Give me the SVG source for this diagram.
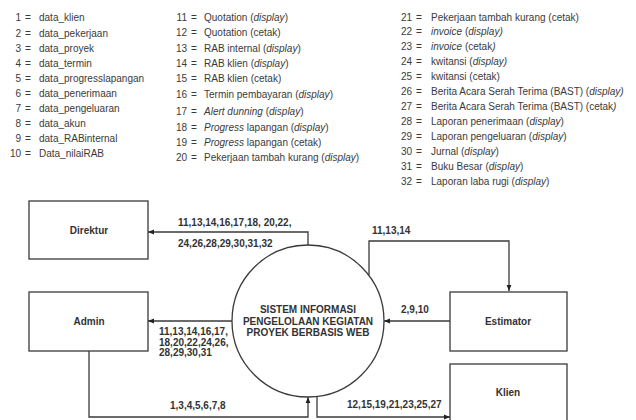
<svg xmlns="http://www.w3.org/2000/svg" width="636" height="420" viewBox="0 0 636 420">
<style>
.lg{font-family:"Liberation Sans",Arial,sans-serif;font-size:10px;fill:#3a3a3a}
.n{text-anchor:end}
.i{font-style:italic}
.box{fill:#fff;stroke:#3a3a3a;stroke-width:1.3}
.lbl{font-family:"Liberation Sans",Arial,sans-serif;font-size:10px;font-weight:bold;fill:#333}
.c{text-anchor:middle}
.ln{fill:none;stroke:#3a3a3a;stroke-width:1.3}
</style>
<defs>
<marker id="ah" viewBox="0 0 10 10" refX="10" refY="5" markerWidth="6" markerHeight="6" orient="auto" markerUnits="userSpaceOnUse">
<path d="M0,1 L10,5 L0,9 z" fill="#222"/>
</marker>
</defs>
<rect width="636" height="420" fill="#fff"/>
<g id="legend" class="lg">
<text x="21" y="20.5" class="n">1</text><text x="25" y="20.5">=</text><text x="39" y="20.5">data_klien</text>
<text x="21" y="36.5" class="n">2</text><text x="25" y="36.5">=</text><text x="39" y="36.5">data_pekerjaan</text>
<text x="21" y="51.5" class="n">3</text><text x="25" y="51.5">=</text><text x="39" y="51.5">data_proyek</text>
<text x="21" y="66.5" class="n">4</text><text x="25" y="66.5">=</text><text x="39" y="66.5">data_termin</text>
<text x="21" y="81.5" class="n">5</text><text x="25" y="81.5">=</text><text x="39" y="81.5">data_progresslapangan</text>
<text x="21" y="96.5" class="n">6</text><text x="25" y="96.5">=</text><text x="39" y="96.5">data_penerimaan</text>
<text x="21" y="111.5" class="n">7</text><text x="25" y="111.5">=</text><text x="39" y="111.5">data_pengeluaran</text>
<text x="21" y="126.5" class="n">8</text><text x="25" y="126.5">=</text><text x="39" y="126.5">data_akun</text>
<text x="21" y="141.5" class="n">9</text><text x="25" y="141.5">=</text><text x="39" y="141.5">data_RABinternal</text>
<text x="21" y="156.5" class="n">10</text><text x="25" y="156.5">=</text><text x="39" y="156.5">Data_nilaiRAB</text>

<text x="187" y="20.5" class="n">11</text><text x="191" y="20.5">=</text><text x="204" y="20.5">Quotation (<tspan class="i">display</tspan>)</text>
<text x="187" y="35.5" class="n">12</text><text x="191" y="35.5">=</text><text x="204" y="35.5">Quotation (cetak)</text>
<text x="187" y="51.5" class="n">13</text><text x="191" y="51.5">=</text><text x="204" y="51.5">RAB internal (<tspan class="i">display</tspan>)</text>
<text x="187" y="66.5" class="n">14</text><text x="191" y="66.5">=</text><text x="204" y="66.5">RAB klien (<tspan class="i">display</tspan>)</text>
<text x="187" y="81.5" class="n">15</text><text x="191" y="81.5">=</text><text x="204" y="81.5">RAB klien (cetak)</text>
<text x="187" y="97.5" class="n">16</text><text x="191" y="97.5">=</text><text x="204" y="97.5">Termin pembayaran (<tspan class="i">display</tspan>)</text>
<text x="187" y="114.5" class="n">17</text><text x="191" y="114.5">=</text><text x="204" y="114.5"><tspan class="i">Alert dunning</tspan>  (<tspan class="i">display</tspan>)</text>
<text x="187" y="130.5" class="n">18</text><text x="191" y="130.5">=</text><text x="204" y="130.5"><tspan class="i">Progress</tspan>  lapangan (<tspan class="i">display</tspan>)</text>
<text x="187" y="145.5" class="n">19</text><text x="191" y="145.5">=</text><text x="204" y="145.5"><tspan class="i">Progress</tspan>  lapangan (cetak)</text>
<text x="187" y="160.5" class="n">20</text><text x="191" y="160.5">=</text><text x="204" y="160.5">Pekerjaan tambah kurang (<tspan class="i">display</tspan>)</text>

<text x="412" y="20.5" class="n">21</text><text x="416" y="20.5">=</text><text x="431" y="20.5">Pekerjaan tambah kurang (cetak)</text>
<text x="412" y="34.5" class="n">22</text><text x="416" y="34.5">=</text><text x="431" y="34.5"><tspan class="i">invoice</tspan> (<tspan class="i">display)</tspan></text>
<text x="412" y="49.5" class="n">23</text><text x="416" y="49.5">=</text><text x="431" y="49.5"><tspan class="i">invoice</tspan> (cetak<tspan class="i">)</tspan></text>
<text x="412" y="64.5" class="n">24</text><text x="416" y="64.5">=</text><text x="431" y="64.5">kwitansi (<tspan class="i">display)</tspan></text>
<text x="412" y="79.5" class="n">25</text><text x="416" y="79.5">=</text><text x="431" y="79.5">kwitansi (cetak)</text>
<text x="412" y="94.5" class="n">26</text><text x="416" y="94.5">=</text><text x="431" y="94.5">Berita Acara Serah Terima (BAST) (<tspan class="i">display)</tspan></text>
<text x="412" y="109.5" class="n">27</text><text x="416" y="109.5">=</text><text x="431" y="109.5">Berita Acara Serah Terima (BAST) (cetak<tspan class="i">)</tspan></text>
<text x="412" y="124.5" class="n">28</text><text x="416" y="124.5">=</text><text x="431" y="124.5">Laporan penerimaan (<tspan class="i">display</tspan>)</text>
<text x="412" y="139.5" class="n">29</text><text x="416" y="139.5">=</text><text x="431" y="139.5">Laporan pengeluaran (<tspan class="i">display</tspan>)</text>
<text x="412" y="154.5" class="n">30</text><text x="416" y="154.5">=</text><text x="431" y="154.5">Jurnal (<tspan class="i">display</tspan>)</text>
<text x="412" y="169.5" class="n">31</text><text x="416" y="169.5">=</text><text x="431" y="169.5">Buku Besar (<tspan class="i">display</tspan>)</text>
<text x="412" y="184.5" class="n">32</text><text x="416" y="184.5">=</text><text x="431" y="184.5">Laporan laba rugi (<tspan class="i">display</tspan>)</text>
</g>

<g id="connectors">
<polyline class="ln" points="308,245 308,232 148,232" marker-end="url(#ah)"/>
<line class="ln" x1="232" y1="321" x2="148" y2="321" marker-end="url(#ah)"/>
<polyline class="ln" points="89,351 89,417 308,417 308,397" marker-end="url(#ah)"/>
<polyline class="ln" points="317,396.5 317,417 450,417" marker-end="url(#ah)"/>
<line class="ln" x1="450" y1="321" x2="384" y2="321" marker-end="url(#ah)"/>
<polyline class="ln" points="369,275 369,241 509,241 509,291" marker-end="url(#ah)"/>
<g class="lbl">
<text x="178" y="226">11,13,14,16,17,18, 20,22,</text>
<text x="178" y="247">24,26,28,29,30,31,32</text>
<text x="159" y="335">11,13,14,16,17,</text>
<text x="159" y="346">18,20,22,24,26,</text>
<text x="159" y="356">28,29,30,31</text>
<text x="170" y="408.5">1,3,4,5,6,7,8</text>
<text x="347" y="407.5">12,15,19,21,23,25,27</text>
<text x="401" y="312.5">2,9,10</text>
<text x="372" y="233.5">11,13,14</text>
</g>
</g>

<g id="direktur"><rect class="box" x="29" y="201" width="119" height="58"/><text class="lbl c" x="89" y="233.5">Direktur</text></g>
<g id="admin"><rect class="box" x="29" y="292" width="119" height="59"/><text class="lbl c" x="89" y="324.5">Admin</text></g>
<g id="estimator"><rect class="box" x="450" y="292" width="117" height="59"/><text class="lbl c" x="508" y="324.5">Estimator</text></g>
<g id="klien"><rect class="box" x="450" y="364" width="117" height="70"/><text class="lbl c" x="508" y="395.5">Klien</text></g>
<g id="sistem">
<circle class="box" cx="308" cy="321" r="76"/>
<text class="lbl c" x="308" y="312.5">SISTEM INFORMASI</text>
<text class="lbl c" x="308" y="324.5">PENGELOLAAN KEGIATAN</text>
<text class="lbl c" x="308" y="336">PROYEK BERBASIS WEB</text>
</g>
</svg>
